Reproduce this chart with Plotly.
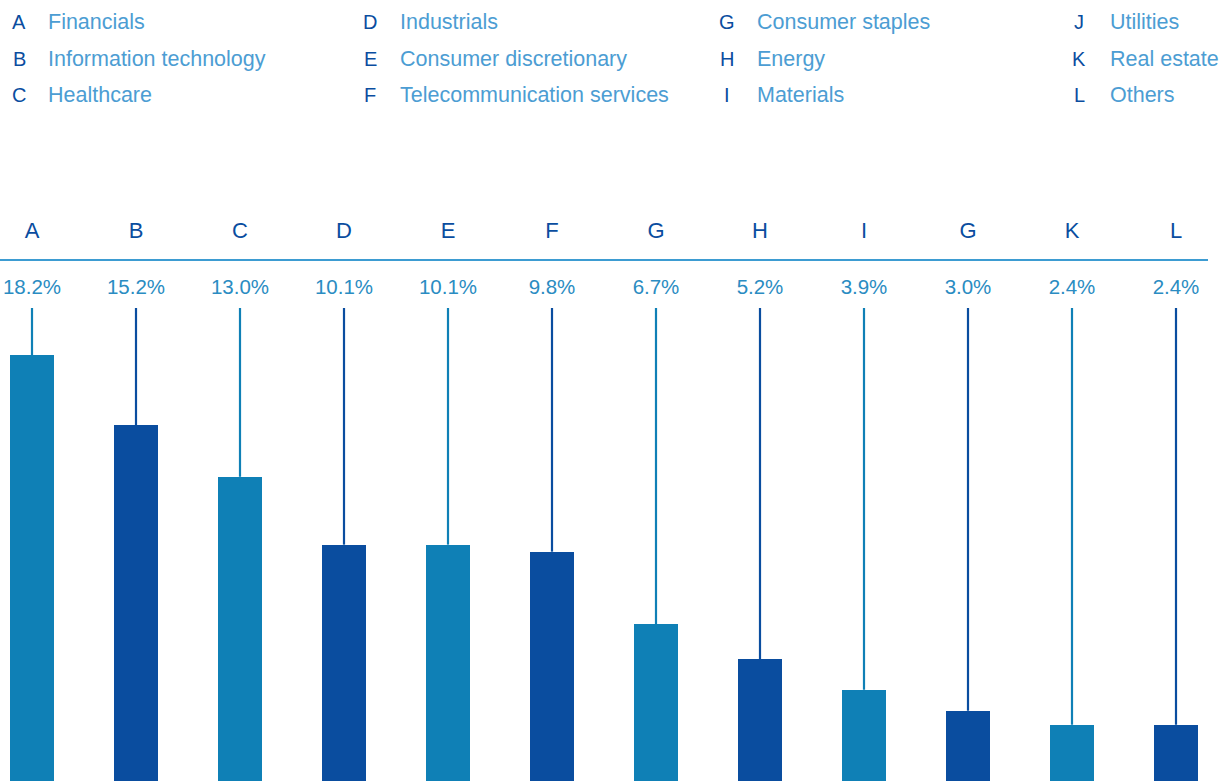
import plotly.graph_objects as go

# ── Data ──────────────────────────────────────────────────────────────────────
bar_letters = ["A", "B", "C", "D", "E", "F", "G", "H", "I", "G", "K", "L"]
weights = [18.2, 15.2, 13.0, 10.1, 10.1, 9.8, 6.7, 5.2, 3.9, 3.0, 2.4, 2.4]

legend_letters = ["A", "B", "C", "D", "E", "F", "G", "H", "I", "J", "K", "L"]
legend_names = [
    "Financials", "Information technology", "Healthcare",
    "Industrials", "Consumer discretionary", "Telecommunication services",
    "Consumer staples", "Energy", "Materials",
    "Utilities", "Real estate", "Others",
]

LIGHT = "#0f80b6"
DARK = "#0a4d9f"
LABEL = "#2a8cc2"
NAME = "#4c9dd3"
RULE = "#3d9cd2"
FONT = "Liberation Sans, Arial, sans-serif"

W, H = 1223, 781
PX_PER_UNIT = 23.4          # vertical scale of the bars
PX_PER_SLOT = 104           # horizontal spacing between bars
FIRST_CENTER = 32

xs = list(range(len(weights)))
colors = [LIGHT if i % 2 == 0 else DARK for i in xs]

y_top = H / PX_PER_UNIT
x_lo = -FIRST_CENTER / PX_PER_SLOT
x_hi = x_lo + W / PX_PER_SLOT


def y_of(px):
    # convert a pixel row (from the top) into a y value
    return (H - px) / PX_PER_UNIT


fig = go.Figure()

# ── Bars ──────────────────────────────────────────────────────────────────────
fig.add_trace(go.Bar(
    x=xs, y=weights, width=0.415,
    marker=dict(color=colors, line=dict(width=0)),
    hoverinfo="skip", showlegend=False,
))

# ── Leader lines from the label down to each bar ─────────────────────────────
line_top = y_of(308)
for x, v, c in zip(xs, weights, colors):
    fig.add_trace(go.Scatter(
        x=[x, x], y=[v, line_top], mode="lines",
        line=dict(color=c, width=2.2),
        hoverinfo="skip", showlegend=False,
    ))

# ── Horizontal rule under the letters ─────────────────────────────────────────
fig.add_trace(go.Scatter(
    x=[x_lo, x_lo + 1208 / PX_PER_SLOT], y=[y_of(260), y_of(260)],
    mode="lines", line=dict(color=RULE, width=2),
    hoverinfo="skip", showlegend=False,
))

# ── Letters and percentages above the bars ───────────────────────────────────
fig.add_trace(go.Scatter(
    x=xs, y=[y_of(232)] * len(xs), mode="text",
    text=bar_letters,
    textfont=dict(family=FONT, size=22, color=DARK),
    hoverinfo="skip", showlegend=False,
))
fig.add_trace(go.Scatter(
    x=xs, y=[y_of(289)] * len(xs), mode="text",
    text=[f"{v:.1f}%" for v in weights],
    textfont=dict(family=FONT, size=20.5, color=LABEL),
    hoverinfo="skip", showlegend=False,
))

# ── Key at the top ────────────────────────────────────────────────────────────
letter_x = [19, 370, 727, 1079]
name_x = [46, 398, 755, 1108]
row_y = [22, 59, 95]
for k, (letter, name) in enumerate(zip(legend_letters, legend_names)):
    col, row = divmod(k, 3)
    yy = 1 - row_y[row] / H
    fig.add_annotation(
        x=letter_x[col] / W, y=yy, xref="paper", yref="paper",
        text=letter, showarrow=False, xanchor="center", yanchor="middle",
        font=dict(family=FONT, size=20, color=DARK),
    )
    fig.add_annotation(
        x=name_x[col] / W, y=yy, xref="paper", yref="paper",
        text=name, showarrow=False, xanchor="left", yanchor="middle",
        font=dict(family=FONT, size=21.5, color=NAME),
    )

fig.update_layout(
    width=W, height=H,
    margin=dict(l=0, r=0, t=0, b=0),
    plot_bgcolor="white", paper_bgcolor="white",
    xaxis=dict(range=[x_lo, x_hi], visible=False, fixedrange=True),
    yaxis=dict(range=[0, y_top], visible=False, fixedrange=True),
    bargap=0,
)

fig.write_html(
    "out.html",
    config={"displayModeBar": False},
    post_script="document.body.style.margin='0';document.body.style.overflow='hidden';",
)
